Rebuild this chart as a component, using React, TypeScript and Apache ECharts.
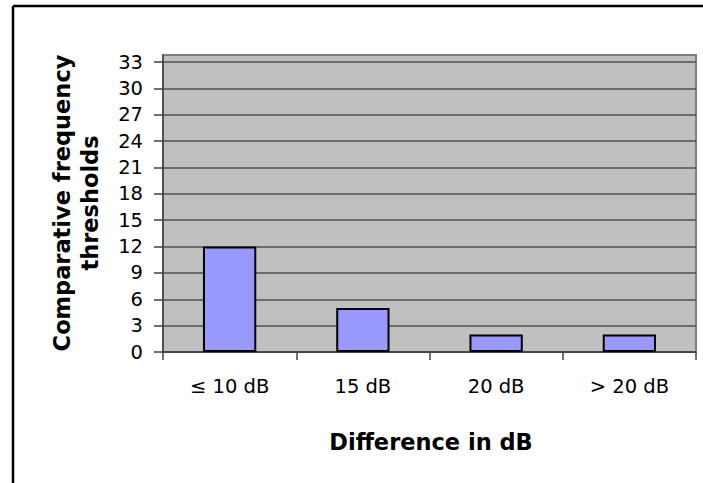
import React, { useEffect, useRef } from "react";
import * as echarts from "echarts";

const categories = ["≤ 10 dB", "15 dB", "20 dB", "> 20 dB"];
const thresholds = [12, 5, 2, 2];
const yTicks = [0, 3, 6, 9, 12, 15, 18, 21, 24, 27, 30, 33];
const xTitle = "Difference in dB";
const yTitle = "Comparative frequency\nthresholds";

export default function App() {
  const ref = useRef<HTMLDivElement>(null);
  useEffect(() => {
    if (!ref.current) return;
    const chart = echarts.init(ref.current, null, { renderer: "svg" });
    const font = "DejaVu Sans";
    chart.setOption({
      animation: false,
      backgroundColor: "#ffffff",
      grid: {
        left: 163,
        right: 7,
        top: 55,
        bottom: 131,
        show: true,
        backgroundColor: "#c0c0c0",
        borderColor: "#808080",
        borderWidth: 2,
      },
      xAxis: {
        type: "category",
        data: categories,
        boundaryGap: true,
        axisLine: { lineStyle: { color: "#404040", width: 1.5 } },
        axisTick: { show: true, length: 8, lineStyle: { color: "#404040", width: 1.5 } },
        axisLabel: { color: "#000", fontFamily: font, fontSize: 19.5, margin: 24 },
        splitLine: { show: false },
      },
      yAxis: {
        type: "value",
        min: 0,
        max: 33.8,
        axisLine: { show: true, lineStyle: { color: "#404040", width: 1.5 } },
        axisTick: {
          show: true,
          length: 9,
          customValues: yTicks,
          lineStyle: { color: "#404040", width: 1.5 },
        },
        axisLabel: {
          color: "#000",
          fontFamily: font,
          fontSize: 19.5,
          margin: 20,
          customValues: yTicks,
        },
        splitLine: { show: true, lineStyle: { color: "#505050", width: 1.5 } },
      },
      series: [
        {
          type: "bar",
          data: thresholds,
          barWidth: "40%",
          itemStyle: { color: "#9999ff", borderColor: "#000", borderWidth: 2 },
        },
      ],
      graphic: [
        {
          type: "line",
          shape: { x1: 13, y1: 6, x2: 703, y2: 6 },
          style: { stroke: "#000", lineWidth: 2.5 },
        },
        {
          type: "line",
          shape: { x1: 13, y1: 6, x2: 13, y2: 483 },
          style: { stroke: "#000", lineWidth: 2.5 },
        },
        {
          type: "text",
          x: 431,
          y: 442,
          style: {
            text: xTitle,
            fontFamily: font,
            fontWeight: "bold",
            fontSize: 22.5,
            fill: "#000",
            textAlign: "center",
            textVerticalAlign: "middle",
          },
        },
        {
          type: "text",
          x: 76,
          y: 203,
          rotation: Math.PI / 2,
          style: {
            text: yTitle,
            fontFamily: font,
            fontWeight: "bold",
            fontSize: 22.5,
            lineHeight: 28,
            fill: "#000",
            textAlign: "center",
            textVerticalAlign: "middle",
          },
        },
      ],
    });
    return () => chart.dispose();
  }, []);
  return (
    <div
      ref={ref}
      style={{ position: "fixed", left: 0, top: 0, width: 703, height: 483 }}
    />
  );
}
